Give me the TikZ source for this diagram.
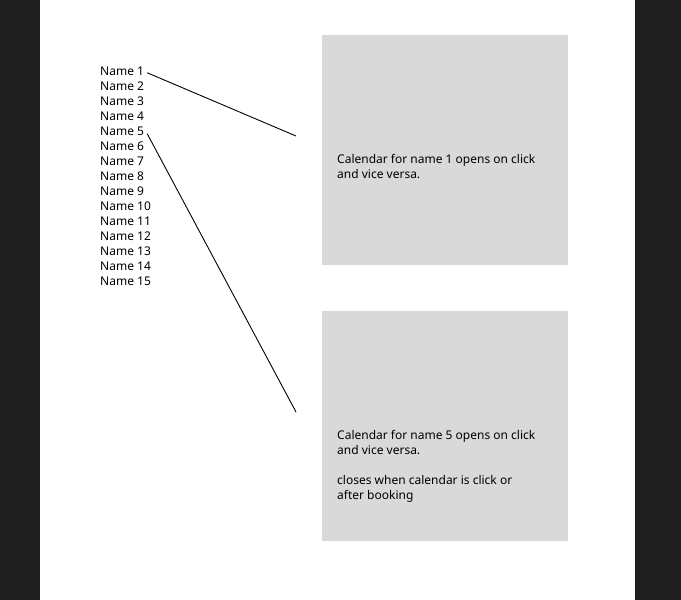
\documentclass[tikz,border=0pt]{standalone}
\usepackage{fontspec}
\setmainfont{Noto Sans}
\definecolor{darkbg}{HTML}{1E1E1E}
\definecolor{boxgray}{HTML}{D9D9D9}
\begin{document}
\begin{tikzpicture}[x=1pt,y=-1pt,
  lbl/.style={anchor=base west,inner sep=0pt,font=\fontsize{12}{15}\selectfont,text=black},
  calbox/.style={fill=boxgray,draw=none},
  conn/.style={draw=black,line width=0.9pt}]
\useasboundingbox (0,0) rectangle (681,600);
\fill[darkbg] (0,0) rectangle (681,600);
\fill[white] (40,0) rectangle (635,600);
% calendar boxes
\path[calbox] (322,35) rectangle (568,265);
\path[calbox] (322,311) rectangle (568,541);
% names
\foreach \i in {1,...,15} {
  \node[lbl] (n\i) at (100,{75+15*(\i-1)}) {Name \i};
}
% box texts (anchored at the baseline of the last line)
\node[lbl,align=left] (c1) at (337,178) {Calendar for name 1 opens on click\\and vice versa.};
\node[lbl,align=left] (c5) at (337,499) {Calendar for name 5 opens on click\\and vice versa.\\[15pt]closes when calendar is click or\\after booking};
% connectors
\coordinate (e1) at (296,136);
\coordinate (e5) at (296,412);
\draw[conn] ([xshift=3pt,yshift=-2pt]n1.east) -- (e1);
\draw[conn] ([xshift=3pt,yshift=-3pt]n5.east) -- (e5);
\end{tikzpicture}
\end{document}
